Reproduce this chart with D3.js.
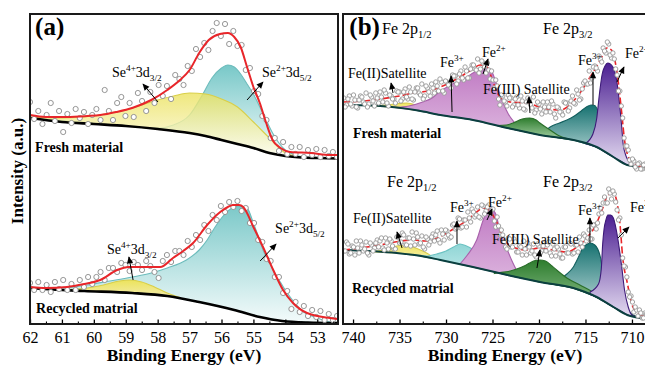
<!DOCTYPE html>
<html>
<head>
<meta charset="utf-8">
<script src="https://cdn.jsdelivr.net/npm/d3@7"></script>
<style>
  body { margin: 0; background: #fff; }
  svg { display: block; }
  text { font-family: "Liberation Serif", "Times New Roman", serif; fill: #000; }
</style>
</head>
<body>
<svg id="chart" width="645" height="365"></svg>
<script>
// ---------- data: panel (a) Se 3d, [binding energy eV, intensity a.u.] ----------
const aTicks = [62, 61, 60, 59, 58, 57, 56, 55, 54, 53];
const aMinor = [61.5, 60.5, 59.5, 58.5, 57.5, 56.5, 55.5, 54.5, 53.5, 52.5];

const aFreshBase = [[62,206],[61,202],[60,200],[59,198],[58,195],[57,191],[56.5,188],[56,184],[55.5,180],[55,176],[54.5,171],[54,168],[53.5,166.5],[53,166],[52.35,165.5]];
const aFreshSe4 = [[62,207],[61,206],[60,208],[59.5,211],[59,214],[58.5,219],[58,224],[57.5,228],[57,231],[56.5,230],[56,225],[55.5,217],[55,202],[54.5,186],[54,171],[53.5,167],[53,166],[52.35,165.5]];
const aFreshSe2 = [[62,206],[59,198],[58,196],[57.5,199],[57,209],[56.6,229],[56.3,246],[56,256],[55.8,259],[55.6,257],[55.4,250],[55.2,240],[55,230],[54.8,217],[54.6,204],[54.4,191],[54.2,181],[54,174],[53.7,169],[53.4,167],[53,166],[52.35,165.5]];
const aFreshFit = [[62,209],[61.5,207],[60.84,207],[60.2,208],[59.8,209],[59.3,212],[58.8,216],[58.2,224],[57.7,234],[57.3,244],[57,254],[56.7,271],[56.4,284],[56.05,290],[55.8,291],[55.6,287],[55.4,277],[55.2,257],[55,237],[54.8,221],[54.6,201],[54.4,184],[54.15,176],[53.85,172],[53.2,171],[52.6,169],[52.35,169]];
const aFreshRaw = [222,205,213,200,209,221,203,213,192,210,201,215,206,212,200,209,215,204,234,213,204,221,227,208,221,207,231,223,213,232,221,239,228,238,225,249,245,239,258,253,275,267,281,274,293,301,288,300,280,293,278,279,254,256,233,230,208,204,186,186,173,182,170,177,170,177,167,174,169,175,167,174,168,172,167];

const aRecBase = [[62,36],[61,34],[60.3,33],[58.8,31],[57.7,28],[56.7,22],[55.6,14],[54.8,7],[54.1,3],[53.3,1.5],[52.35,1]];
const aRecSe4 = [[60.8,34.5],[60.2,36],[59.7,39],[59.2,43],[58.87,44],[58.5,42],[58.1,37],[57.7,31],[57.3,26.5]];
const aRecSe2 = [[62,37],[61,36],[60.2,39],[59.5,43],[58.8,47],[58.2,51],[57.7,56],[57.1,64],[56.7,74],[56.45,84],[56.2,97],[56,106],[55.8,113],[55.6,117],[55.4,118],[55.2,116],[55,101],[54.85,88],[54.7,74],[54.5,62],[54.38,54],[54.1,39],[53.94,31],[53.7,21],[53.5,14],[53,6],[52.6,2],[52.35,1.5]];
const aRecFit = [[62,37],[61.5,36],[60.84,37],[60.3,40],[59.8,44],[59.27,54],[58.9,57],[58.55,57],[57.92,57],[57.52,66],[57.2,73],[56.89,81],[56.45,99],[56.04,112],[55.8,117],[55.64,119],[55.45,119],[55.32,117],[55,97],[54.7,77],[54.38,54],[54.07,34],[53.76,21],[53.32,11],[52.6,6],[52.35,5]];
const aRecRaw = [41,34,42,34,39,32,42,35,44,34,40,34,44,37,47,40,47,52,44,56,56,52,61,59,53,62,59,54,63,58,52,46,63,69,62,73,73,69,83,77,89,84,99,93,109,104,118,112,122,117,123,113,116,101,101,84,82,65,63,47,47,31,33,15,22,12,18,8,14,7,13,4,10,4,8];
const aRawStart = 62, aRawStep = 0.13;

// ---------- data: panel (b) Fe 2p ----------
const bTicks = [740, 735, 730, 725, 720, 715, 710];
const bMinor = [737.5, 732.5, 727.5, 722.5, 717.5, 712.5];

const bFreshBase = [[741.08,219],[738,218.5],[735.3,216.5],[733,213.5],[730.6,209],[727.1,204],[723.4,196],[719.9,189],[716.3,184],[713.8,177],[712,167],[710.5,159],[709.1,157],[708.06,156.5]];
const bFreshSat2 = [[738,218.3],[736.5,219],[735,220.5],[734.2,221],[733.2,219],[732,214.5],[731.5,212]];
const bFreshFe3a = [[733.5,214],[731.5,213],[730.6,212.5],[729.2,211.5],[727.5,208],[726.5,205],[725.6,202]];
const bFreshFe2a = [[735.5,216.5],[734,218],[732.5,222],[731.5,226],[730.6,233],[729.5,239],[728.3,244],[727.1,251],[726.3,256],[725.7,257],[725,251],[724.5,238],[723.9,222],[723.3,210],[722.6,201],[722,194.5]];
const bFreshSat3 = [[724.5,198.5],[723.5,199],[722.8,201],[721.8,205],[721,206],[720.3,204],[719.9,201],[718.8,194],[717.9,188.5],[717,185.5]];
const bFreshFe3b = [[721.5,193],[720.5,191.5],[719.5,192],[718.8,197],[717.8,201],[717,204],[716.2,208],[715.6,212],[714.9,217],[714.4,219],[714,218.5],[713.6,212],[713.1,200],[712.7,188],[712.2,178],[711.6,171],[711,165],[710.5,160],[709.8,158]];
const bFreshFe2b = [[715,180.5],[714.2,190],[713.8,205],[713.5,230],[713.2,250],[712.9,258],[712.6,261],[712.2,259],[711.9,254],[711.6,241],[711.3,217],[711.1,197],[710.95,180],[710.6,167],[710.2,161],[709.6,158],[708.8,157]];
const bFreshFit = [[741.08,222],[739,223],[737.1,225],[735,228],[733.5,231],[732,233],[730.6,237],[728.5,247],[727.3,254],[726.3,259],[725.6,257],[724.9,241],[724.2,227],[723.1,222],[721.3,221],[719.6,216],[717.7,214],[716.7,219],[715.6,231],[714.5,247],[713.4,264],[712.7,276],[712.2,274],[711.6,251],[711.1,211],[710.8,184],[710.2,164],[709.5,159],[708.8,157],[708.06,157]];
const bFreshRaw = [226,219,228,218,224,216,228,222,231,220,227,218,226,232,222,231,218,228,225,233,232,225,235,225,232,224,236,231,240,228,236,228,236,242,233,242,231,242,240,249,248,243,253,244,253,246,259,255,265,255,261,251,254,253,236,238,219,228,222,229,226,219,227,216,223,214,226,219,227,214,220,210,217,222,212,220,206,216,212,222,221,216,228,220,230,225,241,240,253,246,258,253,265,276,271,280,266,265,249,233,206,178,174,160,163,155,161,155,160,156];
const bFreshRawMid = [217,225,220,229,217,224,227,220,217,229,223,231,221,227,234,221,229,225,221,232,223,232,227,237,225,232,236,229,225,238,232,240,231,238,245,233,243,239,236,248,240,250,246,257,246,255,259,254,251,263,257,261,245,244,244,225,229,223,218,226,217,225,219,228,215,222,224,216,211,222,215,222,212,217,223,210,217,212,209,221,213,223,221,234,224,235,243,240,241,257,256,268,262,273,282,269,271,255,233,218,186,178,164,165,157,160,155,159,155];

const bRecBase = [[741.08,74],[735.3,71],[733,68.5],[730.6,64],[727.1,57],[723.4,49],[719.9,42],[716.3,36],[713.8,27],[712,17],[710.5,9],[709.1,6],[708.06,5]];
const bRecSat2 = [[738,72.5],[737,73.5],[736,76],[735,78.5],[734,78],[733,75],[732,70.5],[731.3,66]];
const bRecFe3a = [[733.5,69.5],[732,68],[731,70],[730,73],[729.2,77],[728.5,80],[727.8,78],[727,74],[726,68],[725,61],[724,54],[723,49],[722,46.5]];
const bRecFe2a = [[728.5,60],[727.7,69],[726.7,84],[726,104],[725.6,113],[725.3,116],[724.7,111],[724.2,94],[723.4,74],[722.8,61],[722.3,52],[721.8,46]];
const bRecSat3 = [[724.8,50.5],[724.2,51.5],[723.3,52.5],[722.4,55],[721.6,58],[721,61],[720.4,63.5],[719.9,64],[719.3,63],[718.6,58],[718.1,54],[717,46],[715.6,39],[714.2,32],[712.7,23],[711,13],[709.5,7],[708.5,5.5]];
const bRecFe3b = [[719,41],[718.2,42],[717.7,45],[717,50],[716.3,57],[715.8,66],[715.3,76],[714.8,80],[714.5,81],[714,79],[713.4,67],[713.1,51],[712.7,40],[712.4,34],[711.8,26],[711.3,21],[710.7,15],[710.2,11],[709.5,7.5],[708.8,6]];
const bRecFe2b = [[714.5,32],[713.6,40],[713.3,55],[713.15,80],[713,95],[712.8,104],[712.6,109],[712.3,109],[712,106],[711.5,84],[711.1,57],[710.8,34],[710.4,17],[710,9],[709.4,7],[708.8,6]];
const bRecFit = [[741.08,74],[740,75],[738.5,77],[737.1,79],[735.5,82],[733.5,84],[732.3,83],[731.5,84],[730.5,88],[729.2,95],[727.7,104],[726.7,112],[726,116],[725.3,113],[724.5,101],[723.9,87],[722.8,77],[721.3,74],[719.9,76],[718.5,74],[717,72],[715.9,77],[714.8,87],[714,97],[713.1,117],[712.6,129],[712,131],[711.6,121],[711.3,101],[711,67],[710.5,41],[709.9,17],[709.1,9],[708.06,7]];
const bRecRaw = [73,82,70,78,69,76,83,73,82,69,79,76,84,83,76,86,75,83,75,87,81,91,79,86,78,85,91,80,88,75,85,82,90,89,84,94,84,93,86,99,95,106,96,104,97,106,115,107,117,106,118,113,119,114,103,107,89,89,77,86,77,85,72,78,69,75,81,71,80,67,78,73,81,79,71,80,68,75,66,77,71,81,70,79,72,81,90,83,94,85,99,101,116,121,121,135,125,130,114,106,66,57,32,28,12,14,14,6,11,6];
const bRecRawMid = [73,80,71,77,83,71,79,75,71,81,73,81,77,86,74,81,85,78,75,87,82,89,79,86,92,79,87,81,77,87,79,87,83,93,81,90,94,89,87,100,96,105,97,104,112,102,112,109,107,119,110,117,110,115,97,98,94,82,75,85,77,82,72,77,83,69,77,73,69,80,71,78,73,82,68,75,77,70,66,77,71,80,71,79,87,77,88,86,85,99,95,110,111,127,121,131,133,122,104,89,58,47,27,22,17,8,11,6,10];
const bRawStart = 741, bRawMidStart = 740.85, bRawStep = 0.3;

// ---------- styles ----------
const fills = {
  aYellow: ['#ebe25e', '#fffdf0', '#d9cf48', 0.8],
  aCyan:   ['#78c8c8', '#f6fcfc', '#6dbcbc', 1],
  aYellowR:['#ece35c', '#f3ecb0', '#d9cf48', 1],
  aCyanR:  ['#7cc9c9', '#f4fbfb', '#6cbcbc', 1],
  bYellow: ['#efe567', '#f6efa6', '#d8cd4a', 1],
  bCyan:   ['#8fd5d5', '#c4ebeb', '#6cc2c2', 1],
  bMagenta:['#c07ac3', '#dbb2dd', '#a860ab', 1],
  bGreen:  ['#2e7d2e', '#a3cfa3', '#2a6e2a', 1],
  bTeal:   ['#167170', '#d5eae9', '#135f5e', 1],
  bPurple: ['#4b1f92', '#e6def2', '#3d1a78', 1]
};

const svg = d3.select('#chart');
const defs = svg.append('defs');
Object.entries(fills).forEach(([id, c]) => {
  const lg = defs.append('linearGradient').attr('id', 'g_' + id)
    .attr('x1', 0).attr('y1', 0).attr('x2', 0).attr('y2', 1);
  lg.append('stop').attr('offset', '0%').attr('stop-color', c[0]);
  lg.append('stop').attr('offset', '100%').attr('stop-color', c[1]);
});
defs.append('marker').attr('id', 'arrow')
  .attr('viewBox', '0 0 10 10').attr('refX', 9).attr('refY', 5)
  .attr('markerWidth', 8).attr('markerHeight', 7)
  .attr('markerUnits', 'userSpaceOnUse').attr('orient', 'auto')
  .append('path').attr('d', 'M0,0.5L10,5L0,9.5Z').attr('fill', '#000');

const plotTop = 14, plotBottom = 324;
const y = d3.scaleLinear().domain([0, 310]).range([plotBottom, plotTop]);

// text with super/subscripts
function rich(g, xp, yp, parts, size, weight) {
  const t = g.append('text').attr('x', xp).attr('y', yp)
    .style('font-size', size + 'px').style('font-weight', weight || 'normal');
  let shift = 0;
  parts.forEach(([s, k]) => {
    const to = k === 'sup' ? -size * 0.4 : k === 'sub' ? size * 0.28 : 0;
    t.append('tspan').attr('dy', to - shift)
      .style('font-size', (k === 'n' ? size : size * 0.66) + 'px').text(s);
    shift = to;
  });
  return t;
}

function drawPanel(p) {
  const x = d3.scaleLinear().domain(p.domain).range([p.left, p.right]);
  const g = svg.append('g');
  const clipId = 'clip_' + p.name;
  defs.append('clipPath').attr('id', clipId).append('rect')
    .attr('x', p.left).attr('y', plotTop).attr('width', p.right - p.left).attr('height', plotBottom - plotTop);
  const plot = g.append('g').attr('clip-path', `url(#${clipId})`);

  const line = d3.line().x(d => x(d[0])).y(d => y(d[1])).curve(d3.curveMonotoneX);

  p.spectra.forEach(s => {
    const baseAt = d3.scaleLinear().domain(s.base.map(d => d[0])).range(s.base.map(d => d[1]));
    const area = d3.area().x(d => x(d[0])).y0(d => y(baseAt(d[0]))).y1(d => y(d[1]))
      .curve(d3.curveMonotoneX);
    s.parts.forEach(c => {
      const st = fills[c.style];
      plot.append('path').attr('d', area(c.pts))
        .attr('fill', `url(#g_${c.style})`).attr('fill-opacity', st[3])
        .attr('stroke', st[2]).attr('stroke-width', 1.1);
    });
    plot.append('path').attr('d', line(s.base))
      .attr('fill', 'none').attr('stroke', p.baseColor).attr('stroke-width', p.baseWidth);

    let raw = [];
    s.raw.forEach(([vals, start]) => {
      raw = raw.concat(vals.map((v, i) => [start - i * s.rawStep, v]));
    });
    const fit = () => plot.append('path').attr('d', line(s.fit))
      .attr('fill', 'none').attr('stroke', '#e8262a').attr('stroke-width', p.fitWidth)
      .attr('stroke-dasharray', p.fitDash);
    if (!p.fitOnTop) fit();
    plot.append('g').selectAll('circle').data(raw).join('circle')
      .attr('cx', d => x(d[0])).attr('cy', d => y(d[1])).attr('r', p.r)
      .attr('fill', '#fff').attr('stroke', p.dotStroke).attr('stroke-width', 0.9);
    if (p.fitOnTop) fit();
  });

  // annotations
  p.notes.forEach(n => {
    if (n.arrow) {
      g.append('line')
        .attr('x1', x(n.arrow[0])).attr('y1', y(n.arrow[1]))
        .attr('x2', x(n.arrow[2])).attr('y2', y(n.arrow[3]))
        .attr('stroke', '#000').attr('stroke-width', 1).attr('marker-end', 'url(#arrow)');
    }
    rich(g, x(n.at[0]), y(n.at[1]), n.parts, n.size, n.weight);
  });

  // axes: inward ticks
  const ax = g.append('g').attr('transform', `translate(0,${plotBottom})`)
    .call(d3.axisBottom(x).tickValues(p.ticks).tickSizeInner(-4.5).tickSizeOuter(0)
      .tickPadding(8).tickFormat(d3.format('d')));
  ax.select('.domain').remove();
  ax.selectAll('line').attr('stroke', '#000').attr('stroke-width', 1.3);
  ax.selectAll('text').style('font-size', '16px')
    .style('font-family', '"Liberation Serif", "Times New Roman", serif');
  const axm = g.append('g').attr('transform', `translate(0,${plotBottom})`)
    .call(d3.axisBottom(x).tickValues(p.minor).tickSizeInner(-2.5).tickSizeOuter(0).tickFormat(''));
  axm.select('.domain').remove();
  axm.selectAll('line').attr('stroke', '#000').attr('stroke-width', 1.1);

  g.append('rect').attr('x', p.left).attr('y', plotTop)
    .attr('width', p.right - p.left).attr('height', plotBottom - plotTop)
    .attr('fill', 'none').attr('stroke', '#1a1a1a').attr('stroke-width', 2);

  g.append('text').attr('x', p.titleX).attr('y', 361).attr('text-anchor', 'middle')
    .style('font-size', '17.5px').style('font-weight', 'bold').text('Binding Energy (eV)');
}

const se = (a, b) => [['Se', 'n'], [a, 'sup'], ['3d', 'n'], [b, 'sub']];
const fe = ch => [['Fe', 'n'], [ch, 'sup']];
const fe2p = j => [['Fe 2p', 'n'], [j, 'sub']];

drawPanel({
  name: 'a', domain: [62, 52.35], left: 30, right: 338, titleX: 184,
  ticks: aTicks, minor: aMinor, r: 2.6, dotStroke: '#8a8a8a', baseColor: '#000', baseWidth: 2.6,
  fitWidth: 2, fitDash: null, fitOnTop: true,
  spectra: [
    { base: aFreshBase, fit: aFreshFit, raw: [[aFreshRaw, aRawStart]], rawStep: aRawStep,
      parts: [{ pts: aFreshSe2, style: 'aCyan' }, { pts: aFreshSe4, style: 'aYellow' }] },
    { base: aRecBase, fit: aRecFit, raw: [[aRecRaw, aRawStart]], rawStep: aRawStep,
      parts: [{ pts: aRecSe2, style: 'aCyanR' }, { pts: aRecSe4, style: 'aYellowR' }] }
  ],
  notes: [
    { at: [61.84, 289], parts: [['(a)', 'n']], size: 25, weight: 'bold' },
    { at: [59.43, 247], parts: se('4+', '3/2'), size: 14, arrow: [57.99, 222, 58.46, 240] },
    { at: [54.73, 247], parts: se('2+', '5/2'), size: 14, arrow: [55.2, 224, 54.7, 242] },
    { at: [61.84, 172], parts: [['Fresh material', 'n']], size: 14, weight: 'bold' },
    { at: [59.59, 70], parts: se('4+', '3/2'), size: 14, arrow: [58.77, 44, 58.9, 67] },
    { at: [54.32, 91], parts: se('2+', '5/2'), size: 14, arrow: [54.79, 63, 54.29, 80] },
    { at: [61.81, 11], parts: [['Recycled matrial', 'n']], size: 14, weight: 'bold' }
  ]
});

drawPanel({
  name: 'b', domain: [741.08, 708.06], left: 343, right: 650, titleX: 505,
  ticks: bTicks, minor: bMinor, r: 2.2, dotStroke: '#959595', baseColor: '#0b3f3f', baseWidth: 2,
  fitWidth: 1.6, fitDash: '7,3', fitOnTop: false,
  spectra: [
    { base: bFreshBase, fit: bFreshFit, raw: [[bFreshRaw, bRawStart], [bFreshRawMid, bRawMidStart]], rawStep: bRawStep,
      parts: [{ pts: bFreshSat2, style: 'bYellow' }, { pts: bFreshFe3a, style: 'bCyan' },
               { pts: bFreshFe2a, style: 'bMagenta' }, { pts: bFreshFe3b, style: 'bTeal' },
               { pts: bFreshSat3, style: 'bGreen' }, { pts: bFreshFe2b, style: 'bPurple' }] },
    { base: bRecBase, fit: bRecFit, raw: [[bRecRaw, bRawStart], [bRecRawMid, bRawMidStart]], rawStep: bRawStep,
      parts: [{ pts: bRecSat2, style: 'bYellow' }, { pts: bRecFe3a, style: 'bCyan' },
               { pts: bRecFe2a, style: 'bMagenta' }, { pts: bRecFe3b, style: 'bTeal' },
               { pts: bRecSat3, style: 'bGreen' }, { pts: bRecFe2b, style: 'bPurple' }] }
  ],
  notes: [
    { at: [740.4, 289], parts: [['(b)', 'n']], size: 25, weight: 'bold' },
    { at: [736.88, 290], parts: fe2p('1/2'), size: 16 },
    { at: [719.57, 290], parts: fe2p('3/2'), size: 16 },
    { at: [740.54, 246], parts: [['Fe(II)Satellite', 'n']], size: 14, arrow: [735.7, 231, 735.91, 241] },
    { at: [730.65, 257], parts: fe('3+'), size: 14, arrow: [729.35, 212, 729.46, 248] },
    { at: [726.13, 267], parts: fe('2+'), size: 14, arrow: [726.02, 250, 725.48, 265] },
    { at: [726.02, 230], parts: [['Fe(III) Satellite', 'n']], size: 14, arrow: [720.97, 211, 721.08, 227] },
    { at: [715.81, 259], parts: fe('3+'), size: 14, arrow: [714.19, 219, 714.19, 252] },
    { at: [710.75, 266], parts: fe('2+'), size: 14, arrow: [711.61, 242, 710.86, 257] },
    { at: [740, 186], parts: [['Fresh material', 'n']], size: 14, weight: 'bold' },
    { at: [736.34, 137], parts: fe2p('1/2'), size: 16 },
    { at: [719.57, 137], parts: fe2p('3/2'), size: 16 },
    { at: [740, 101], parts: [['Fe(II)Satellite', 'n']], size: 14, arrow: [734.73, 76, 735.27, 92] },
    { at: [729.57, 112], parts: fe('3+'), size: 14, arrow: [728.82, 80, 728.82, 103] },
    { at: [725.48, 117], parts: fe('2+'), size: 14, arrow: [725.59, 104, 725.05, 115] },
    { at: [725.05, 80], parts: [['Fe(III) Satellite', 'n']], size: 14, arrow: [720.22, 56, 719.89, 74] },
    { at: [715.81, 109], parts: fe('3+'), size: 14, arrow: [714.52, 81, 714.52, 106] },
    { at: [710.22, 112], parts: fe('2+'), size: 14, arrow: [711.51, 86, 710.32, 97] },
    { at: [740.1, 31], parts: [['Recycled matrial', 'n']], size: 14, weight: 'bold' }
  ]
});

svg.append('text').attr('transform', 'translate(23,171) rotate(-90)')
  .attr('text-anchor', 'middle').style('font-size', '17px').style('font-weight', 'bold')
  .text('Intensity (a.u.)');
</script>
</body>
</html>
